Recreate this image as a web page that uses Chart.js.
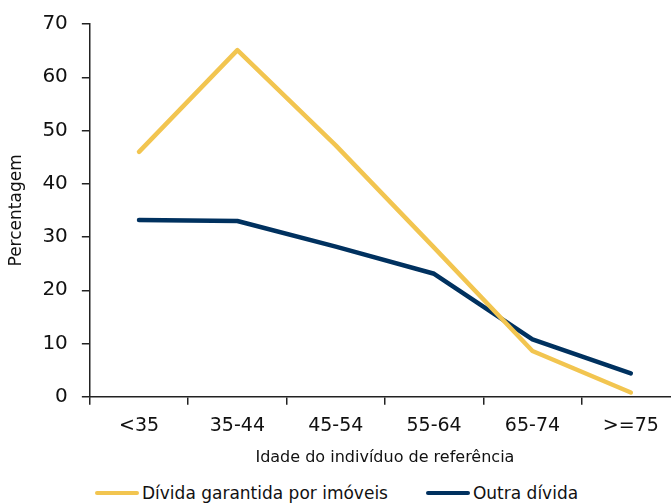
<!DOCTYPE html>
<html>
<head>
<meta charset="utf-8">
<script src="https://cdn.jsdelivr.net/npm/chart.js@4/dist/chart.umd.min.js"></script>
<style>
html,body{margin:0;padding:0;width:671px;height:503px;overflow:hidden;background:#fff;}
#wrap{width:680px;height:477px;position:absolute;left:0;top:0;}
#legend{position:absolute;left:95px;top:482px;display:flex;align-items:center;white-space:nowrap;
  font-family:"DejaVu Sans",sans-serif;font-size:17px;color:#111;line-height:22px;}
#legend .item{display:flex;align-items:center;margin-right:38px;}
#legend .sw{width:44px;height:4.5px;border-radius:2px;margin-right:3px;}
</style>
</head>
<body>
<div id="wrap"><canvas id="c"></canvas></div>
<div id="legend"></div>
<script>
const categories = ['<35', '35-44', '45-54', '55-64', '65-74', '>=75'];
const seriesNames = ['Dívida garantida por imóveis', 'Outra dívida'];
const securedDebt = [46.0, 65.1, 47.2, 28.0, 8.6, 0.8];
const otherDebt = [33.2, 33.0, 28.2, 23.1, 10.8, 4.4];
const yTicks = [0, 10, 20, 30, 40, 50, 60, 70];
const seriesColors = ['#F2C550', '#00315F'];

const FONT = '"DejaVu Sans", sans-serif';
const axisColor = '#222';

const chart = new Chart(document.getElementById('c'), {
  type: 'line',
  data: {
    labels: categories,
    datasets: [
      {label: seriesNames[0], data: securedDebt, borderColor: seriesColors[0], backgroundColor: seriesColors[0],
       borderWidth: 4.5, pointRadius: 0, tension: 0, borderCapStyle: 'round', borderJoinStyle: 'round'},
      {label: seriesNames[1], data: otherDebt, borderColor: seriesColors[1], backgroundColor: seriesColors[1],
       borderWidth: 4.5, pointRadius: 0, tension: 0, borderCapStyle: 'round', borderJoinStyle: 'round'}
    ]
  },
  options: {
    responsive: true,
    maintainAspectRatio: false,
    animation: false,
    layout: {padding: {top: 0, left: 6, right: 0, bottom: 0}},
    plugins: {
      legend: {display: false},
      tooltip: {enabled: false}
    },
    scales: {
      x: {
        offset: true,
        grid: {offset: true, drawOnChartArea: false, drawTicks: true, tickLength: 8, color: axisColor, lineWidth: 1.5},
        border: {display: true, color: axisColor, width: 1.5},
        ticks: {font: {family: FONT, size: 19, lineHeight: 1}, color: '#111', padding: 12},
        title: {display: true, text: 'Idade do indivíduo de referência', font: {family: FONT, size: 16}, color: '#111', padding: {top: 0, bottom: 10}}
      },
      y: {
        min: 0, max: 70,
        afterBuildTicks(scale) { scale.ticks = yTicks.map(v => ({value: v})); },
        grid: {drawOnChartArea: false, drawTicks: true, tickLength: 8, color: axisColor, lineWidth: 1.5},
        border: {display: true, color: axisColor, width: 1.5},
        ticks: {font: {family: FONT, size: 20, lineHeight: 1}, color: '#111', padding: 14},
        title: {display: true, text: 'Percentagem', font: {family: FONT, size: 17}, color: '#111', padding: {top: 0, bottom: 2}}
      }
    }
  }
});

const legendEl = document.getElementById('legend');
chart.data.datasets.forEach(ds => {
  const item = document.createElement('div');
  item.className = 'item';
  const sw = document.createElement('span');
  sw.className = 'sw';
  sw.style.background = ds.borderColor;
  const tx = document.createElement('span');
  tx.textContent = ds.label;
  item.appendChild(sw);
  item.appendChild(tx);
  legendEl.appendChild(item);
});
</script>
</body>
</html>
